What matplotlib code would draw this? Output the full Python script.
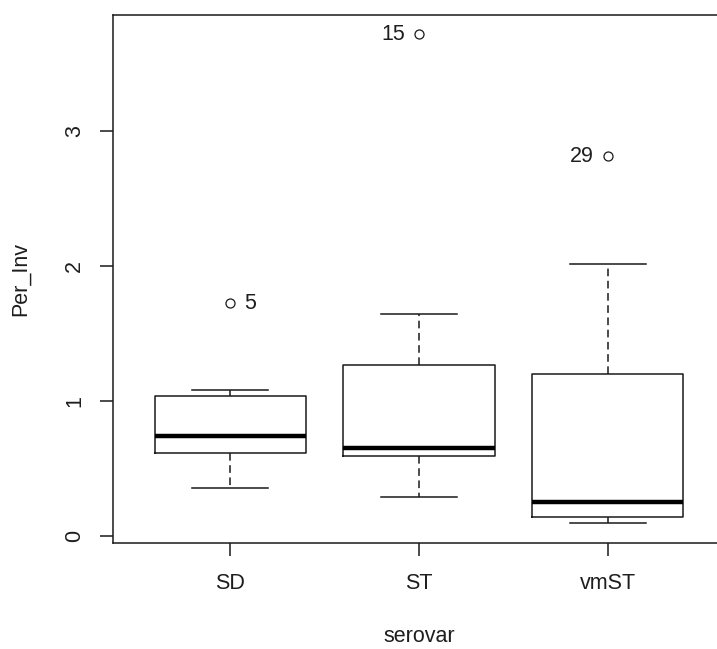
import matplotlib
matplotlib.use("Agg")
import matplotlib.pyplot as plt

plt.rcParams['font.family'] = ['Liberation Sans', 'DejaVu Sans']

# box statistics
groups = ['SD', 'ST', 'vmST']
whislo = [0.354, 0.293, 0.094]
q1 = [0.614, 0.590, 0.138]
med = [0.740, 0.654, 0.251]
q3 = [1.040, 1.268, 1.204]
whishi = [1.082, 1.645, 2.016]
outliers = [[1.723], [3.717], [2.815]]
outlier_ids = [['5'], ['15'], ['29']]
label_side = ['right', 'left', 'left']

stats = []
for k in range(len(groups)):
	stats.append(dict(label=groups[k], whislo=whislo[k], q1=q1[k], med=med[k],
					  q3=q3[k], whishi=whishi[k], fliers=outliers[k]))

fig = plt.figure(figsize=(7.17, 6.49), dpi=100)
W, H = 717.0, 649.0
ax = fig.add_axes([113 / W, (H - 543) / H, (725 - 113) / W, (543 - 14.7) / H])

lc = '#1a1a1a'
fs = 15.5
tc = '#1e1e1e'
ax.bxp(stats, positions=[1, 2, 3], widths=0.8, capwidths=0.4,
	   boxprops=dict(color=lc, linewidth=1.1),
	   medianprops=dict(color='black', linewidth=3.2, solid_capstyle='butt'),
	   whiskerprops=dict(color=lc, linewidth=1.1, linestyle=(0, (5, 3))),
	   capprops=dict(color=lc, linewidth=1.1),
	   flierprops=dict(marker='o', markerfacecolor='none', markeredgecolor=lc,
					   markersize=6.5, markeredgewidth=0.9))

# outlier id labels
for k in range(len(groups)):
	for v, lab in zip(outliers[k], outlier_ids[k]):
		if label_side[k] == 'right':
			ax.annotate(lab, (k + 1, v), xytext=(10, 0), textcoords='offset points',
						ha='left', va='center', fontsize=fs, color=tc)
		else:
			ax.annotate(lab, (k + 1, v), xytext=(-10, 0), textcoords='offset points',
						ha='right', va='center', fontsize=fs, color=tc)

# R style limits: range extended by 4%
allv = whislo + whishi + [v for o in outliers for v in o]
lo, hi = min(allv), max(allv)
ax.set_ylim(lo - 0.04 * (hi - lo), hi + 0.04 * (hi - lo))
ax.set_xlim(0.38, 3.62)

ax.set_yticks([0, 1, 2, 3])
ax.set_yticklabels(['0', '1', '2', '3'], rotation=90, va='center')
ax.set_xticks([1, 2, 3])
ax.set_xticklabels(groups)
ax.tick_params(length=9.4, width=1.1, color=lc, labelsize=fs, labelcolor=tc)
ax.tick_params(axis='x', pad=12.5)
ax.tick_params(axis='y', pad=10.5)
for s in ax.spines.values():
	s.set_color(lc)
	s.set_linewidth(1.1)

fig.text(20 / W, 1 - 279 / H, 'Per_Inv', rotation=90, ha='center', va='center',
		 fontsize=fs, color=tc)
fig.text(419 / W, 1 - 637 / H, 'serovar', ha='center', va='center',
		 fontsize=fs, color=tc)

fig.savefig('out.png', dpi=100)
